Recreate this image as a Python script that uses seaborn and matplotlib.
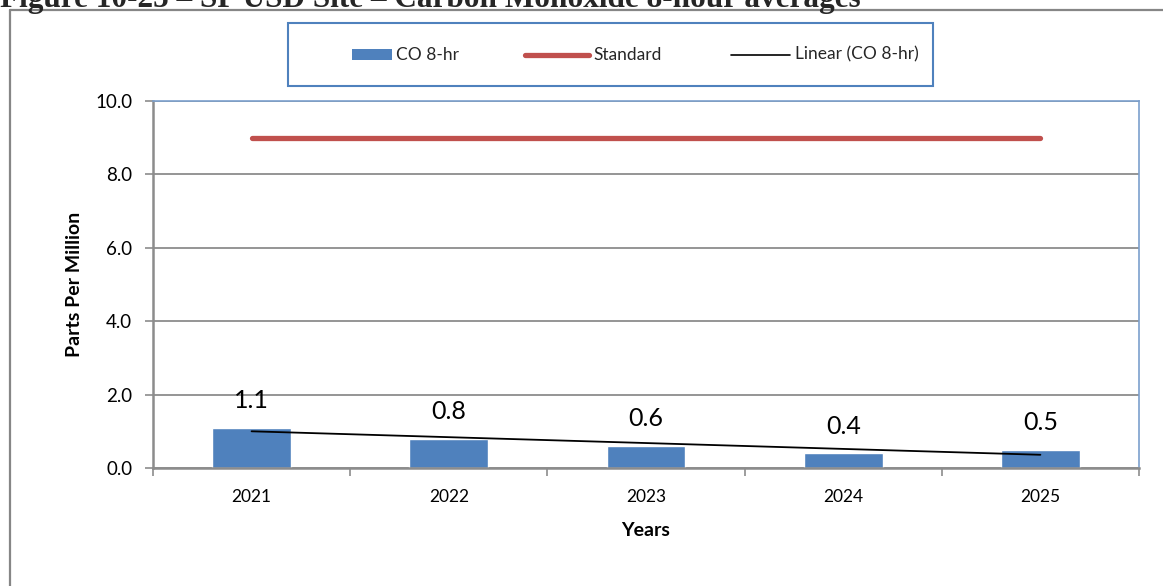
import numpy as np
import pandas as pd
import matplotlib
matplotlib.use("Agg")
import matplotlib.pyplot as plt
import seaborn as sns
from matplotlib.patches import Rectangle
from matplotlib.lines import Line2D

years = ["2021", "2022", "2023", "2024", "2025"]
co_8hr = [1.1, 0.8, 0.6, 0.4, 0.5]
standard = [9.0, 9.0, 9.0, 9.0, 9.0]
yticks = [0.0, 2.0, 4.0, 6.0, 8.0, 10.0]
legend_labels = ["CO 8-hr", "Standard", "Linear (CO 8-hr)"]
title = "Figure 10-25 \u2013 SP USD Site \u2013 Carbon Monoxide 8-hour averages"

sns.set_theme(style="white")
plt.rcParams["font.family"] = ["Lato", "DejaVu Sans"]

BLUE = "#4F81BD"
RED = "#C0504D"
GRAY = "#8C8C8C"

W, H = 1163, 586
fig = plt.figure(figsize=(W / 100, H / 100), dpi=100)
fig.patch.set_facecolor("white")

ax = fig.add_axes([153 / W, 1 - 468 / H, (1139 - 153) / W, (468 - 101) / H])

df = pd.DataFrame({"Year": years, "CO": co_8hr})
sns.barplot(data=df, x="Year", y="CO", color=BLUE, saturation=1, width=0.4, ax=ax)

pos = np.arange(len(years))
ax.plot(pos, standard, color=RED, lw=3.8, solid_capstyle="round", zorder=3)
coef = np.polyfit(pos, co_8hr, 1)
ax.plot(pos, np.polyval(coef, pos), color="black", lw=1.3, zorder=4)

for i, v in enumerate(co_8hr):
    ax.annotate(f"{v:.1f}", (i, v), xytext=(0, 19.5), textcoords="offset points",
                ha="center", va="center", fontsize=18, color="black")

ax.set_xlim(-0.5, len(years) - 0.5)
ax.set_ylim(0, 10)
ax.set_yticks(yticks)
ax.set_yticklabels([f"{t:.1f}" for t in yticks], fontsize=13.5)
ax.yaxis.grid(True, color=GRAY, lw=1.3)
ax.set_axisbelow(True)
ax.tick_params(axis="y", which="major", length=6, width=1.2, color=GRAY, left=True, pad=9)
ax.tick_params(axis="x", which="major", length=0, labelsize=12.5, pad=15)
ax.set_xticks(np.arange(-0.5, len(years)), minor=True)
ax.tick_params(axis="x", which="minor", length=6, width=1.2, color=GRAY, bottom=True)
for lab in ax.get_xticklabels() + ax.get_yticklabels():
    lab.set_color("black")

ax.set_xlabel("Years", fontsize=14, fontweight="bold", color="black")
ax.set_ylabel("Parts Per Million", fontsize=14, fontweight="bold", color="black")
ax.xaxis.set_label_coords(0.5, -(530 - 468) / 367)
ax.xaxis.label.set_va("center")
ax.yaxis.set_label_coords(-(153 - 75) / 986, 0.5)
ax.yaxis.label.set_va("center")

for side in ["top", "right"]:
    ax.spines[side].set_visible(True)
    ax.spines[side].set_color("#7BA0CD")
    ax.spines[side].set_linewidth(1.2)
for side in ["left", "bottom"]:
    ax.spines[side].set_visible(True)
    ax.spines[side].set_color(GRAY)
    ax.spines[side].set_linewidth(1.8)

tf = fig.transFigure
# outer chart border (cropped)
fig.add_artist(Line2D([9.5 / W, 9.5 / W], [0, 1 - 10 / H], transform=tf, color="#868686", lw=1.6))
fig.add_artist(Line2D([9.5 / W, 1], [1 - 10 / H, 1 - 10 / H], transform=tf, color="#868686", lw=1.6))

# legend box and entries
fig.add_artist(Rectangle((288 / W, 1 - 86 / H), (933 - 288) / W, (86 - 23) / H,
                         transform=tf, fill=False, edgecolor=BLUE, lw=1.5))
ly = 1 - 54.5 / H
fig.add_artist(Rectangle((352 / W, ly - 5 / H), 40 / W, 10 / H, transform=tf,
                         facecolor=BLUE, edgecolor="none"))
fig.add_artist(Line2D([525 / W, 589 / W], [ly, ly], transform=tf, color=RED, lw=3.8,
                      solid_capstyle="round"))
fig.add_artist(Line2D([731 / W, 790 / W], [ly, ly], transform=tf, color="black", lw=1.2))
for xpos, lab in zip([396, 593, 795], legend_labels):
    fig.text(xpos / W, ly, lab, fontsize=12.5, va="center", ha="left")

fig.text(0.0, 1 - 7 / H, title, fontsize=22.5, fontweight="bold",
         family="Liberation Serif", va="baseline", ha="left")

fig.savefig("out.png", dpi=100)
